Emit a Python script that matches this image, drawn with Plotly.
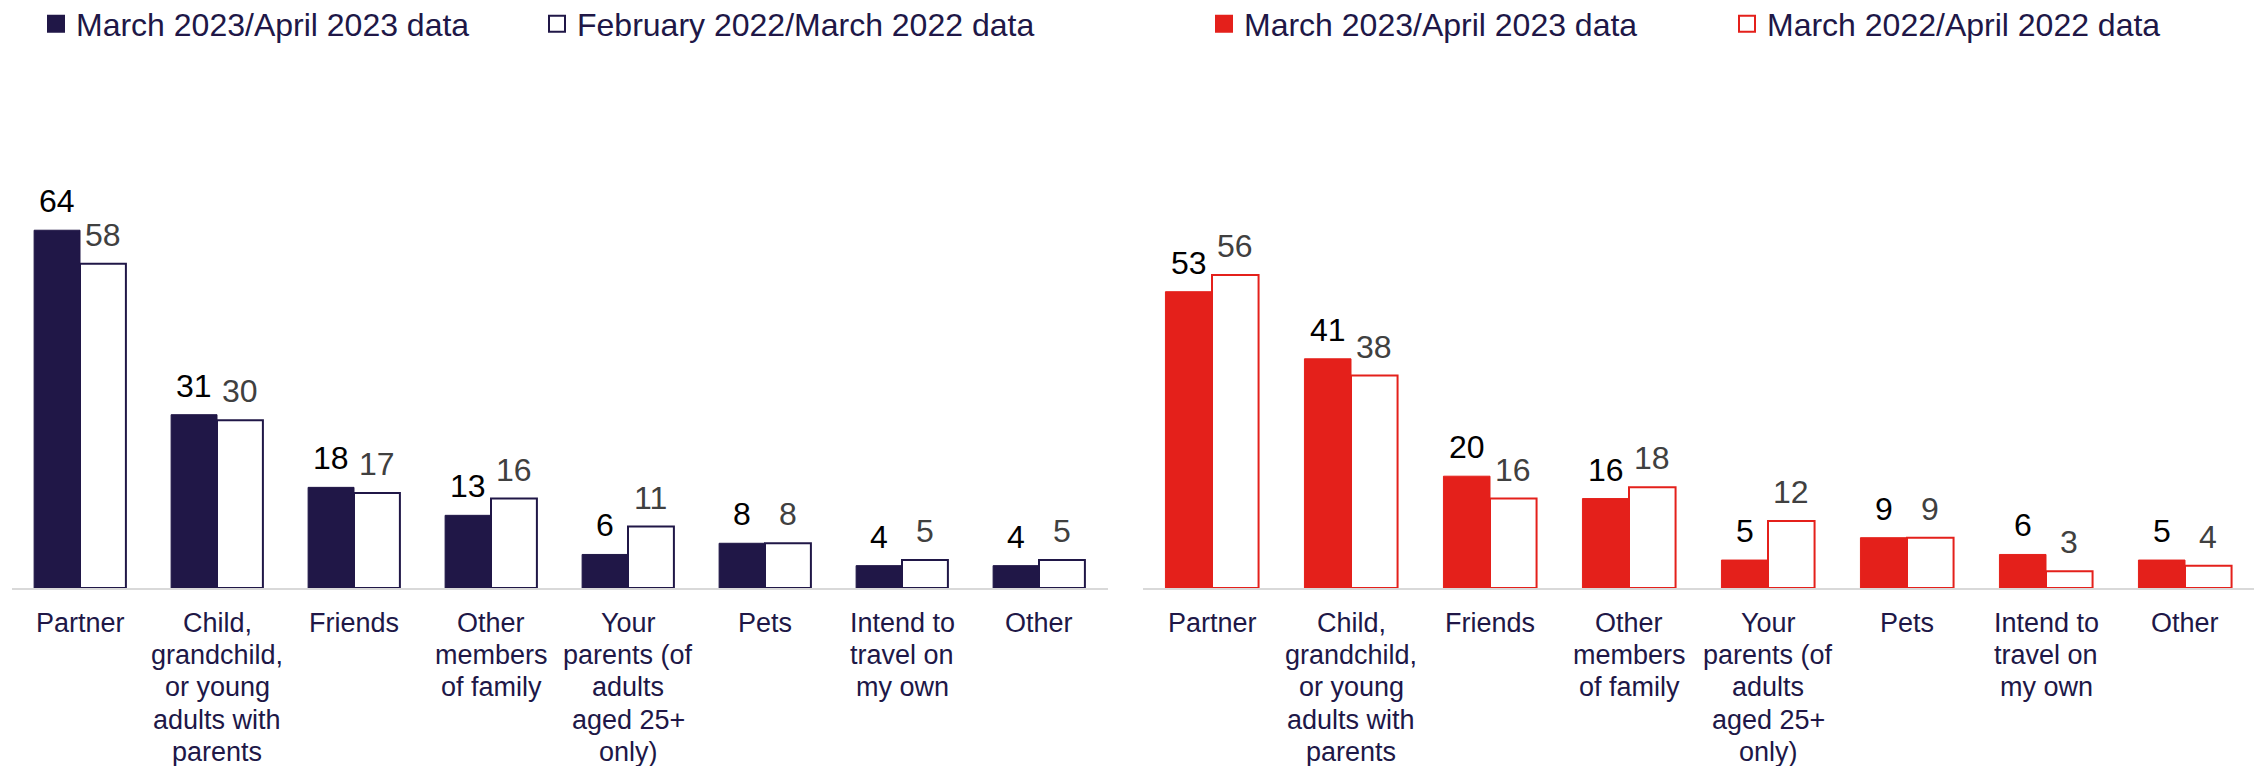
import plotly.graph_objects as go

categories = [
    "Partner",
    "Child,<br>grandchild,<br>or young<br>adults with<br>parents",
    "Friends",
    "Other<br>members<br>of family",
    "Your<br>parents (of<br>adults<br>aged 25+<br>only)",
    "Pets",
    "Intend to<br>travel on<br>my own",
    "Other",
]

left_2023 = [64, 31, 18, 13, 6, 8, 4, 4]
left_2022 = [58, 30, 17, 16, 11, 8, 5, 5]
right_2023 = [53, 41, 20, 16, 5, 9, 6, 5]
right_2022 = [56, 38, 16, 18, 12, 9, 3, 4]

left_names = ["March 2023/April 2023 data", "February 2022/March 2022 data"]
right_names = ["March 2023/April 2023 data", "March 2022/April 2022 data"]

NAVY = "#201747"
RED = "#e4201b"
GRAY_TXT = "#404040"
FONT = "Arial, Liberation Sans, sans-serif"
OFF = 8  # page body margin
W, H = 2262 - OFF, 766 - OFF
BARGAP = 0.33
LEFT_DOM = [(11.5 - OFF) / W, (1107.5 - OFF) / W]
RIGHT_DOM = [(1142.5 - OFF) / W, (2254.5 - OFF) / W]

fig = go.Figure()

def bar_half_width(dom):
    step = (dom[1] - dom[0]) * W / len(categories)
    return step * (1 - BARGAP) / 4.0

def add_pair(v_new, v_old, color, xa, ya, dom):
    fig.add_trace(go.Bar(
        x=categories, y=v_new, xaxis=xa, yaxis=ya,
        marker=dict(color=color, line=dict(color=color, width=1)),
        showlegend=False, hoverinfo="skip",
    ))
    fig.add_trace(go.Bar(
        x=categories, y=v_old, xaxis=xa, yaxis=ya,
        marker=dict(color="#ffffff", line=dict(color=color, width=2)),
        showlegend=False, hoverinfo="skip",
    ))
    hw = bar_half_width(dom)
    for vals, sign, col in ((v_new, -1, "#000000"), (v_old, 1, GRAY_TXT)):
        for c, v in zip(categories, vals):
            fig.add_annotation(
                x=c, y=v, xref=xa, yref=ya, text=str(v), showarrow=False,
                xshift=sign * hw, yanchor="bottom", yshift=9,
                font=dict(size=32, color=col, family=FONT),
            )
    # category labels, one annotation per line for tight line spacing
    for c in categories:
        for i, line in enumerate(c.split("<br>")):
            fig.add_annotation(
                x=c, y=0, xref=xa, yref=ya, text=line, showarrow=False,
                yanchor="middle", yshift=-(34.5 + i * 32.4),
                font=dict(size=27, color=NAVY, family=FONT),
            )

add_pair(left_2023, left_2022, NAVY, "x", "y", LEFT_DOM)
add_pair(right_2023, right_2022, RED, "x2", "y2", RIGHT_DOM)

# legend entries (one legend per entry to place them freely)
def legend_entry(name, fill, edge, leg):
    fig.add_trace(go.Scatter(
        x=[None], y=[None], mode="markers", name=name, legend=leg,
        marker=dict(symbol="square", size=16, color=fill, line=dict(color=edge, width=2)),
        xaxis="x", yaxis="y", hoverinfo="skip",
    ))

legend_entry(left_names[0], NAVY, NAVY, "legend")
legend_entry(left_names[1], "#ffffff", NAVY, "legend2")
legend_entry(right_names[0], RED, RED, "legend3")
legend_entry(right_names[1], "#ffffff", RED, "legend4")

def leg(text_start_page):
    return dict(
        xref="container", yref="container",
        x=(text_start_page - OFF - 40) / W, xanchor="left",
        y=1 - 16 / H, yanchor="middle",
        orientation="h", bgcolor="rgba(0,0,0,0)", borderwidth=0,
        font=dict(size=32, color=NAVY, family=FONT),
        itemclick=False, itemdoubleclick=False,
    )

xaxis_common = dict(
    type="category", showgrid=False, zeroline=False,
    showline=True, linecolor="#d9d9d9", linewidth=2,
    ticks="", showticklabels=False,
    range=[-0.5, 7.5], fixedrange=True,
)
yaxis_common = dict(
    range=[0, 78.35], showgrid=False, zeroline=False, showline=False,
    showticklabels=False, fixedrange=True,
)

fig.update_layout(
    width=W, height=H,
    margin=dict(l=0, r=0, t=150 - OFF, b=178),
    paper_bgcolor="#ffffff", plot_bgcolor="#ffffff",
    barmode="group", bargap=BARGAP, bargroupgap=0,
    font=dict(family=FONT, color=NAVY),
    xaxis=dict(domain=LEFT_DOM, anchor="y", **xaxis_common),
    yaxis=dict(domain=[0, 1], anchor="x", **yaxis_common),
    xaxis2=dict(domain=RIGHT_DOM, anchor="y2", **xaxis_common),
    yaxis2=dict(domain=[0, 1], anchor="x2", **yaxis_common),
    legend=leg(76),
    legend2=leg(577),
    legend3=leg(1244),
    legend4=leg(1767),
)

fig.write_html("out.html")
